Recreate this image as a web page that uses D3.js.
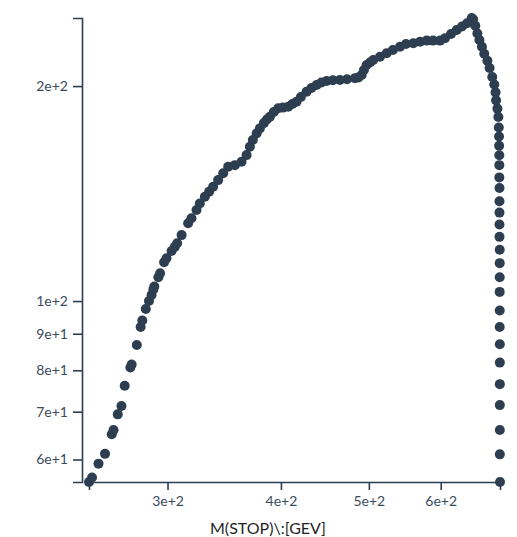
<!DOCTYPE html>
<html>
<head>
<meta charset="utf-8">
<script src="https://cdn.jsdelivr.net/npm/d3@7"></script>
<style>
    body { margin: 0; background: #fff; }
    svg { display: block; font-family: Lato, "Open Sans", sans-serif; }
</style>
</head>
<body>
<div id="chart"></div>
<script>
// m(stop) [GeV], in drawing order
const mStop = [
    245.8, 247.7, 251.8, 256.0, 260.4, 261.6, 264.4, 266.9, 269.1, 273.0,
    273.9, 277.5, 280.2, 281.4, 283.9, 286.2, 288.1, 289.4, 290.1, 293.1,
    294.4, 297.4, 299.2, 303.1, 305.6, 307.4, 310.9, 316.1, 318.8, 322.9,
    325.6, 329.8, 333.4, 336.8, 341.1, 345.5, 349.9, 355.9, 362.0, 366.6,
    369.7, 372.5, 376.1, 379.2, 383.1, 386.0, 389.0, 392.9, 397.3, 402.0,
    407.5, 411.8, 416.2, 420.8, 426.9, 432.2, 437.9, 443.3, 449.2, 456.4,
    464.6, 473.0, 482.6, 487.0, 490.9, 493.8, 497.2, 501.4, 505.6, 514.3,
    523.1, 531.5, 541.1, 549.4, 559.7, 569.3, 579.0, 588.4, 598.9, 606.5,
    615.9, 624.9, 633.3, 641.4, 649.2,
    651.4, 655.0, 658.5, 661.9, 666.1, 670.1, 675.4, 679.2, 683.8, 687.3,
    689.6, 690.5, 692.8, 694.5, 695.3, 695.7, 695.9, 696.2, 696.2, 696.2,
    696.5, 696.5, 696.5, 696.5, 696.5, 696.9, 696.9, 696.9, 696.9, 696.9,
    696.9, 697.1, 697.1, 697.1, 697.1, 697.1, 697.1, 697.4
];

// m(LSP) [GeV], same order
const mLsp = [
    55.8, 56.6, 59.2, 61.1, 65.1, 66.0, 69.4, 71.3, 76.1, 80.7,
    81.5, 86.8, 92.0, 93.9, 97.5, 100.0, 102.0, 103.8, 104.8, 108.0,
    109.4, 113.3, 114.8, 117.5, 119.1, 120.5, 123.7, 128.5, 130.6, 134.1,
    137.0, 140.0, 142.3, 144.6, 147.7, 151.0, 154.2, 155.0, 156.7, 160.1,
    164.5, 168.1, 171.7, 174.5, 177.5, 179.6, 181.2, 184.0, 186.2, 186.6,
    187.1, 188.8, 190.2, 193.1, 196.4, 198.8, 200.7, 202.3, 203.3, 203.8,
    204.0, 204.4, 205.1, 205.6, 207.3, 210.7, 214.1, 215.8, 217.6, 219.9,
    222.3, 224.7, 227.1, 229.1, 229.6, 230.8, 231.6, 231.6, 231.6, 233.4,
    236.6, 239.7, 242.4, 244.9, 249.1,
    248, 243, 237, 232, 227, 222, 217, 212, 206, 201,
    196, 191, 186, 181, 175, 170, 165, 160, 155, 149,
    144, 138, 133, 128, 123, 118, 113, 108, 103, 97,
    92, 87, 82, 76.5, 71.5, 66, 61, 55.8
];

const xTicks = [300, 400, 500, 600];
const yTicks = [60, 70, 80, 90, 100, 200];
const xTitle = "M(STOP)\\:[GEV]";

const width = 517;
const height = 537;
const margin = { top: 18, right: 17, bottom: 55, left: 89 };
const color = "#2c3e50";

const points = mStop.map((m, i) => ({ x: m, y: mLsp[i] }));

const svg = d3.select("#chart")
    .append("svg")
    .attr("width", width)
    .attr("height", height);

const x = d3.scaleLog()
    .domain(d3.extent(points, d => d.x))
    .range([margin.left, width - margin.right]);

const y = d3.scaleLog()
    .domain(d3.extent(points, d => d.y))
    .range([height - margin.bottom, margin.top]);

const fmt = d3.format(".0e");

const xAxis = svg.append("g")
    .attr("transform", `translate(0, ${height - margin.bottom})`)
    .call(d3.axisBottom(x)
        .tickValues(xTicks)
        .tickFormat(fmt)
        .tickSize(8)
        .tickSizeOuter(8)
        .tickPadding(6));

const yAxis = svg.append("g")
    .attr("transform", `translate(${margin.left - 7}, 0)`)
    .call(d3.axisLeft(y)
        .tickValues(yTicks)
        .tickFormat(fmt)
        .tickSize(9)
        .tickSizeOuter(9)
        .tickPadding(5));

[xAxis, yAxis].forEach(g => {
    g.selectAll("path, line")
        .attr("stroke", color)
        .attr("stroke-width", 1.6);
    g.selectAll("text")
        .attr("fill", "#3b4b5c")
        .style("font-size", "14px")
        .style("font-family", "Lato, sans-serif");
});

svg.append("text")
    .attr("x", 268)
    .attr("y", height - 3)
    .attr("text-anchor", "middle")
    .attr("fill", "#1f1f1f")
    .style("font-size", "16px")
    .text(xTitle);

svg.append("g")
    .selectAll("circle")
    .data(points)
    .join("circle")
        .attr("cx", d => x(d.x))
        .attr("cy", d => y(d.y))
        .attr("r", 5)
        .attr("fill", color);
</script>
</body>
</html>
